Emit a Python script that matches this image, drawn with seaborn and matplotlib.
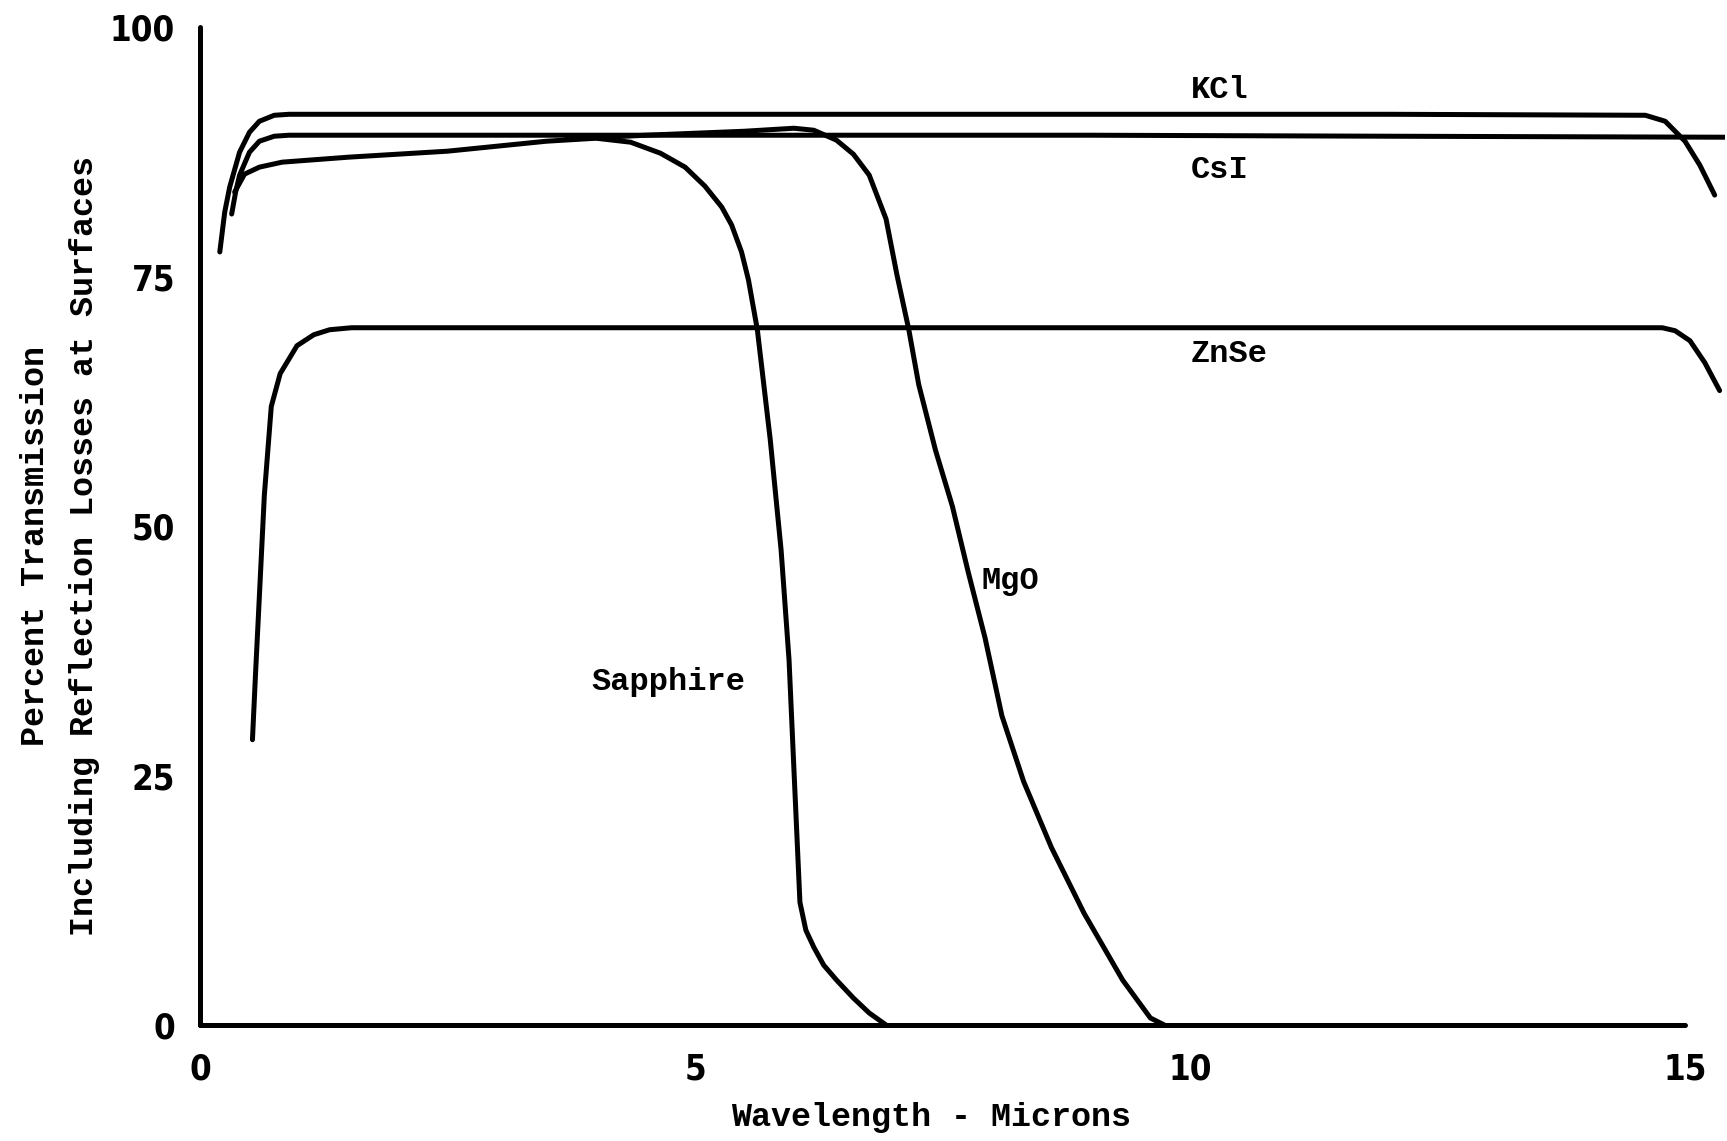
import matplotlib
matplotlib.use("Agg")
import matplotlib.pyplot as plt
import seaborn as sns
import pandas as pd

# ---- data (wavelength in microns, % transmission) ----
kcl_x = [0.20, 0.25, 0.30, 0.40, 0.50, 0.60, 0.75, 0.90, 3.0, 6.0, 9.0, 12.0, 14.6, 14.8, 15.0, 15.15, 15.3]
kcl_y = [77.5, 81.5, 84.0, 87.5, 89.5, 90.6, 91.2, 91.3, 91.3, 91.3, 91.3, 91.3, 91.2, 90.6, 88.6, 86.2, 83.2]

csi_x = [0.32, 0.36, 0.40, 0.50, 0.60, 0.75, 0.90, 3.0, 6.0, 9.0, 12.0, 15.4]
csi_y = [81.3, 83.5, 85.2, 87.5, 88.6, 89.1, 89.2, 89.2, 89.2, 89.2, 89.1, 89.0]

sap_x = [0.35, 0.45, 0.60, 0.83, 1.5, 2.5, 3.0, 3.5, 4.0, 4.35, 4.65, 4.9, 5.1, 5.27, 5.37, 5.47, 5.54, 5.63,
         5.76, 5.87, 5.95, 6.00, 6.06, 6.12, 6.20, 6.30, 6.43, 6.60, 6.76, 6.93]
sap_y = [83.5, 85.3, 86.0, 86.5, 87.0, 87.6, 88.1, 88.6, 88.9, 88.5, 87.4, 86.0, 84.1, 82.0, 80.2, 77.5, 74.7, 69.7,
         58.7, 47.6, 36.6, 25.5, 12.3, 9.5, 7.8, 6.0, 4.5, 2.7, 1.2, 0.0]

mgo_x = [3.7, 4.5, 5.0, 5.5, 6.0, 6.2, 6.43, 6.6, 6.76, 6.93, 7.04, 7.16, 7.26, 7.43, 7.60, 7.76, 7.93, 8.10,
         8.32, 8.60, 8.93, 9.32, 9.60, 9.74]
mgo_y = [88.8, 89.2, 89.4, 89.6, 89.9, 89.7, 88.7, 87.3, 85.2, 80.8, 75.2, 69.7, 64.2, 57.6, 52.0, 45.4, 38.8, 31.0,
         24.4, 17.8, 11.2, 4.5, 0.7, 0.0]

znse_x = [0.53, 0.56, 0.59, 0.65, 0.72, 0.81, 0.98, 1.15, 1.31, 1.53, 4.0, 8.0, 12.0, 14.77, 14.9, 15.05, 15.2, 15.35]
znse_y = [28.6, 35.0, 41.0, 53.1, 62.0, 65.3, 68.1, 69.2, 69.7, 69.9, 69.9, 69.9, 69.9, 69.9, 69.6, 68.6, 66.4, 63.6]

labels = ["KCl", "CsI", "ZnSe", "MgO", "Sapphire"]
label_x = [10.30, 10.30, 10.40, 8.19, 4.73]
label_y = [93.7, 85.7, 67.3, 44.5, 34.4]

x_ticks = list(range(0, 16))
x_tick_labels = ["0", "", "", "", "", "5", "", "", "", "", "10", "", "", "", "", "15"]
y_ticks = [0, 25, 50, 75, 100]

# ---- figure ----
sns.set_theme(style="white")
plt.rcParams["font.family"] = ["Liberation Mono", "DejaVu Sans Mono"]

fig = plt.figure(figsize=(17.27, 11.41), dpi=100)
ax = fig.add_axes([0.1158, 0.1017, 0.8828, 0.8742])

series = [("KCl", kcl_x, kcl_y), ("CsI", csi_x, csi_y), ("Sapphire", sap_x, sap_y),
          ("MgO", mgo_x, mgo_y), ("ZnSe", znse_x, znse_y)]
for name, xs, ys in series:
    df = pd.DataFrame({"x": xs, "y": ys})
    sns.lineplot(data=df, x="x", y="y", sort=False, estimator=None, ax=ax,
                 color="black", linewidth=3.6, solid_capstyle="round", solid_joinstyle="round")

for t, lx, ly in zip(labels, label_x, label_y):
    ax.text(lx, ly, t, ha="center", va="center", fontsize=23, fontweight="bold",
            family=["Liberation Mono", "DejaVu Sans Mono"], color="black")

ax.set_xlim(0, 15.4)
ax.set_ylim(0, 100)
for s in ["top", "right"]:
    ax.spines[s].set_visible(False)
for s in ["left", "bottom"]:
    ax.spines[s].set_color("black")
    ax.spines[s].set_linewidth(3.6)
    ax.spines[s].set_capstyle("round")
ax.spines["bottom"].set_bounds(0, 15)
ax.spines["left"].set_bounds(0, 100)

ax.set_xticks(x_ticks)
ax.set_xticklabels(x_tick_labels)
ax.set_yticks(y_ticks)
ax.set_yticklabels([str(v) for v in y_ticks])
ax.tick_params(axis="both", direction="in", length=7, width=2.8, color="black",
               labelsize=25, labelcolor="black")
ax.tick_params(axis="x", pad=20)
ax.tick_params(axis="y", pad=18)
for lab in ax.get_xticklabels() + ax.get_yticklabels():
    lab.set_family(["DejaVu Sans"])
    lab.set_stretch("condensed")
    lab.set_fontweight("bold")

ax.set_xlabel("Wavelength - Microns", fontsize=24, fontweight="bold", color="black")
ax.xaxis.set_label_coords(0.4795, -0.093)
ax.xaxis.label.set_va("center")
ax.set_ylabel("Percent Transmission\nIncluding Reflection Losses at Surfaces",
              fontsize=24, fontweight="bold", color="black", linespacing=1.75)
ax.yaxis.set_label_coords(-0.0915, 0.48)
ax.yaxis.label.set_va("center")
ax.grid(False)

fig.savefig("out.png", dpi=100, facecolor="white")
